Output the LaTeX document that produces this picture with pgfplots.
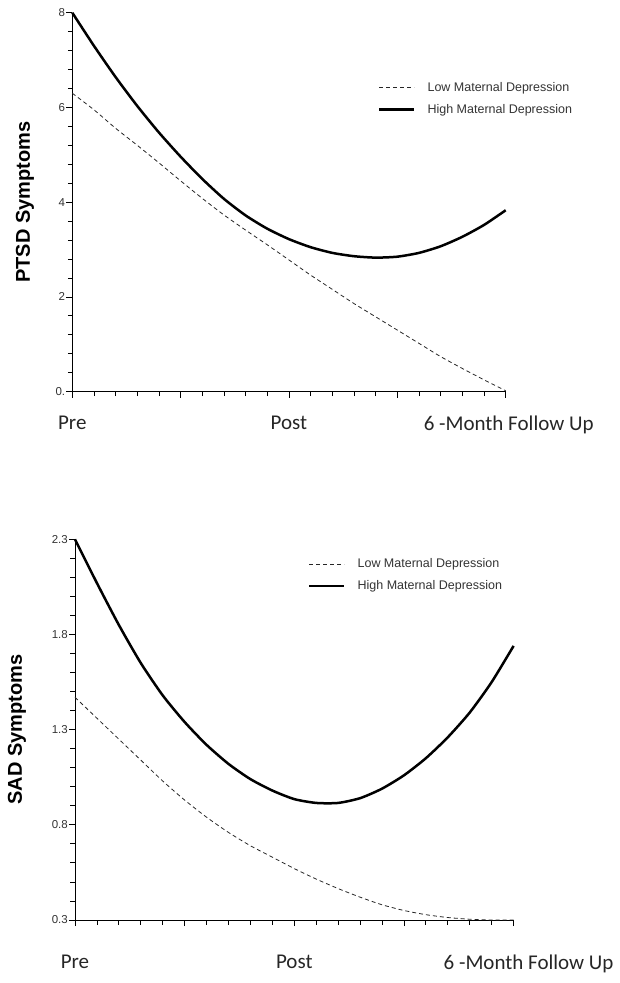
\documentclass[border=0pt]{standalone}
\usepackage{fontspec}
\setmainfont{Liberation Sans}
\newfontfamily\carlito{Carlito}
\usepackage{pgfplots}
\pgfplotsset{compat=1.18}

\pgfplotsset{
  symstyle/.style={
    scale only axis, clip=false,
    axis x line*=bottom, axis y line*=left,
    xmin=0, xmax=2,
    xtick={0,0.5,1,1.5,2},
    minor x tick num=4, minor y tick num=4,
    tick align=outside,
    major tick length=6pt, minor tick length=4.5pt,
    tick style={black, line width=0.8pt},
    axis line style={black, line width=0.9pt},
    yticklabel style={font=\fontsize{11.5}{12}\selectfont, text=black!80, inner sep=1pt},
    xticklabel style={font=\carlito\fontsize{21}{23}\selectfont, text=black!85},
    ylabel style={font=\bfseries\fontsize{20}{22}\selectfont, anchor=south, inner sep=0pt},
    legend cell align=left,
    legend image code/.code={\draw[##1] (0pt,0pt) -- (35pt,0pt); \path (46pt,0pt);},
    legend style={draw=none, fill=none, anchor=north west, inner sep=0pt,
      font=\fontsize{12.5}{14}\selectfont, text=black!80, row sep=9.5pt,
      nodes={inner sep=1pt}},
  },
  lowline/.style={black!85, line width=0.8pt, dash pattern=on 4pt off 3pt, smooth, tension=0.4},
  highline/.style={black, line width=2.5pt, smooth, tension=0.4},
}

\begin{document}
\begin{tikzpicture}
\useasboundingbox (0,0) rectangle (619pt,983pt);

% --- PTSD ---
\begin{axis}[symstyle,
  at={(72.3pt,591.3pt)}, anchor=south west,
  width=433.4pt, height=379pt,
  ymin=0, ymax=8,
  ytick={0,2,4,6,8}, yticklabels={0.,2,4,6,8},
  xticklabels={Pre,{},Post,{},\hspace*{6pt}6 -Month Follow Up},
  xticklabel style={yshift=-15pt},
  ylabel={PTSD Symptoms},
  ylabel style={at={(rel axis cs:-0.088,0.5)}},
  legend style={at={(rel axis cs:0.705,0.82)}},
]
\addplot[lowline] coordinates {
  (0,6.30) (0.1,5.95) (0.2,5.56) (0.3,5.20) (0.4,4.83) (0.5,4.45) (0.6,4.08)
  (0.7,3.73) (0.8,3.41) (0.9,3.10) (1.0,2.78) (1.1,2.46) (1.2,2.16) (1.3,1.86)
  (1.4,1.58) (1.5,1.30) (1.6,1.02) (1.7,0.74) (1.8,0.49) (1.9,0.25) (2.0,0.02)};
\addlegendentry{Low Maternal Depression}
\addplot[highline] coordinates {
  (0,8.00) (0.1,7.30) (0.2,6.64) (0.3,6.03) (0.4,5.47) (0.5,4.96) (0.6,4.49)
  (0.7,4.07) (0.8,3.72) (0.9,3.44) (1.0,3.22) (1.1,3.05) (1.2,2.93) (1.3,2.86)
  (1.4,2.83) (1.5,2.85) (1.6,2.93) (1.7,3.07) (1.8,3.27) (1.9,3.52) (2.0,3.83)};
\addlegendentry{High Maternal Depression}
\end{axis}

% --- SAD ---
\begin{axis}[symstyle,
  at={(75pt,63pt)}, anchor=south west,
  width=438.6pt, height=380.7pt,
  ymin=0.3, ymax=2.3,
  ytick={0.3,0.8,1.3,1.8,2.3}, yticklabels={0.3,0.8,1.3,1.8,2.3},
  xticklabels={Pre,{},Post,{},\hspace*{30pt}6 -Month Follow Up},
  xticklabel style={yshift=-25pt},
  ylabel={SAD Symptoms},
  ylabel style={at={(rel axis cs:-0.111,0.5)}},
  legend style={at={(rel axis cs:0.531,0.952)}},
]
\addplot[lowline] coordinates {
  (0,1.47) (0.1,1.36) (0.2,1.25) (0.3,1.14) (0.4,1.03) (0.5,0.93) (0.6,0.84)
  (0.7,0.76) (0.8,0.69) (0.9,0.63) (1.0,0.57) (1.1,0.515) (1.2,0.465) (1.3,0.42)
  (1.4,0.38) (1.5,0.35) (1.6,0.328) (1.7,0.313) (1.8,0.304) (1.9,0.30) (2.0,0.30)};
\addlegendentry{Low Maternal Depression}
\addplot[highline] coordinates {
  (0,2.30) (0.1,2.07) (0.2,1.85) (0.3,1.65) (0.4,1.48) (0.5,1.34) (0.6,1.22)
  (0.7,1.12) (0.8,1.04) (0.9,0.98) (1.0,0.935) (1.1,0.915) (1.2,0.915) (1.3,0.94)
  (1.4,0.99) (1.5,1.06) (1.6,1.15) (1.7,1.26) (1.8,1.39) (1.9,1.55) (2.0,1.74)};
\addlegendentry{High Maternal Depression}
\end{axis}
\end{tikzpicture}
\end{document}
